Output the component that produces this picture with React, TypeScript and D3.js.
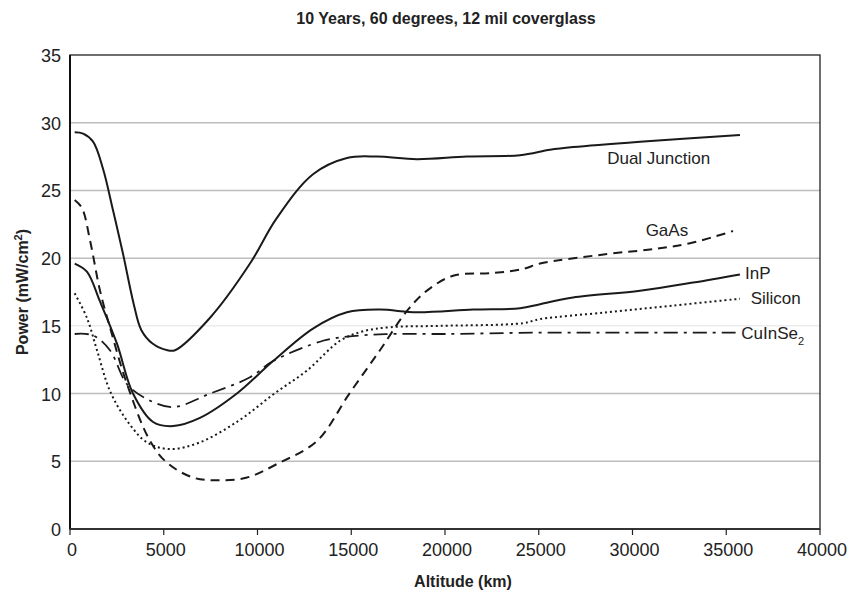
import React, { useEffect, useRef } from 'react';
import * as d3 from 'd3';

// altitude (km) / power (mW/cm2)
const djAlt = [250, 700, 1230, 1760, 2300, 2830, 3400, 3800, 4400, 5200, 5600, 7470, 9600, 11000, 12960, 14770, 16370, 18500, 21170, 24000, 25600, 26830, 30400, 35730];
const djPow = [29.3, 29.2, 28.6, 26.6, 23.5, 20.3, 16.6, 14.7, 13.7, 13.2, 13.2, 15.6, 19.6, 22.9, 26.2, 27.4, 27.5, 27.3, 27.5, 27.6, 28.0, 28.2, 28.6, 29.1];

const gaasAlt = [250, 640, 1070, 1600, 2130, 3040, 4270, 5170, 6560, 7840, 9440, 11040, 13170, 14900, 16530, 17970, 19040, 20430, 22560, 24160, 25070, 28640, 31300, 33070, 35360];
const gaasPow = [24.3, 23.7, 21.3, 17.6, 14.9, 10.7, 6.5, 4.9, 3.8, 3.6, 3.8, 4.8, 6.5, 10.0, 13.2, 16.1, 17.6, 18.7, 18.9, 19.2, 19.6, 20.3, 20.7, 21.1, 22.0];

const inpAlt = [250, 900, 1600, 2500, 3360, 4430, 5500, 6930, 8900, 10830, 12960, 14770, 16530, 18500, 21500, 24000, 25070, 26830, 30400, 33230, 35730];
const inpPow = [19.6, 19.0, 16.8, 13.7, 10.0, 7.9, 7.6, 8.2, 10.0, 12.4, 14.8, 16.0, 16.2, 16.0, 16.2, 16.3, 16.6, 17.1, 17.6, 18.2, 18.8];

const siAlt = [250, 900, 1440, 2130, 3040, 4100, 5330, 6930, 9000, 10900, 12640, 14400, 15630, 17070, 19730, 24160, 25070, 28640, 32160, 35730];
const siPow = [17.4, 15.6, 13.2, 10.2, 8.0, 6.4, 5.9, 6.4, 8.0, 10.0, 11.7, 13.9, 14.6, 14.9, 15.0, 15.2, 15.5, 16.0, 16.5, 17.0];

const cisAlt = [250, 1230, 2130, 3040, 4100, 5500, 7470, 9600, 10830, 13490, 14770, 17070, 20000, 25000, 30000, 35500];
const cisPow = [14.4, 14.3, 13.2, 10.7, 9.6, 9.0, 10.0, 11.2, 12.4, 13.9, 14.2, 14.4, 14.4, 14.5, 14.5, 14.5];

const xTicks = [0, 5000, 10000, 15000, 20000, 25000, 30000, 35000, 40000];
const yTicks = [0, 5, 10, 15, 20, 25, 30, 35];
const gridVals = [5, 10, 15, 20, 25, 30];

export default function App() {
    const ref = useRef<SVGSVGElement>(null);

    useEffect(() => {
        const svg = d3.select(ref.current);
        svg.selectAll('*').remove();

        const left = 70, right = 820, top = 55, bottom = 529;
        const x = d3.scaleLinear().domain([0, 40000]).range([left, right]);
        const y = d3.scaleLinear().domain([0, 35]).range([bottom, top]);
        const font = 'Liberation Sans, Arial, sans-serif';

        // faint gridlines
        svg.selectAll('line.grid')
            .data(gridVals)
            .enter()
            .append('line')
            .attr('x1', left).attr('x2', right)
            .attr('y1', d => y(d)).attr('y2', d => y(d))
            .attr('stroke', d => d === 15 ? '#ececec' : '#bdbdbd')
            .attr('stroke-width', 1.5);

        // frame
        svg.append('rect')
            .attr('x', left).attr('y', top)
            .attr('width', right - left).attr('height', bottom - top)
            .attr('fill', 'none').attr('stroke', '#222').attr('stroke-width', 1.3);
        svg.append('line')
            .attr('x1', left).attr('x2', left).attr('y1', top).attr('y2', bottom)
            .attr('stroke', '#111').attr('stroke-width', 2);
        svg.append('line')
            .attr('x1', left).attr('x2', right).attr('y1', bottom).attr('y2', bottom)
            .attr('stroke', '#333').attr('stroke-width', 2);

        // x axis ticks + labels
        const xg = svg.append('g');
        xg.selectAll('line')
            .data(xTicks)
            .enter()
            .append('line')
            .attr('x1', d => x(d)).attr('x2', d => x(d))
            .attr('y1', bottom).attr('y2', bottom + 6)
            .attr('stroke', '#222').attr('stroke-width', 1.2);
        xg.selectAll('text')
            .data(xTicks)
            .enter()
            .append('text')
            .attr('x', d => x(d) + 2).attr('y', bottom + 27)
            .attr('text-anchor', 'middle')
            .attr('font-family', font).attr('font-size', 18).attr('fill', '#222')
            .text(d => String(d));

        // y axis labels
        svg.append('g').selectAll('text')
            .data(yTicks)
            .enter()
            .append('text')
            .attr('x', left - 9).attr('y', d => y(d) + 7)
            .attr('text-anchor', 'end')
            .attr('font-family', font).attr('font-size', 18).attr('fill', '#222')
            .text(d => String(d));

        // title and axis titles
        svg.append('text')
            .attr('x', 446).attr('y', 24)
            .attr('text-anchor', 'middle')
            .attr('font-family', font).attr('font-size', 16).attr('font-weight', 'bold').attr('fill', '#222')
            .text('10 Years, 60 degrees, 12 mil coverglass');
        svg.append('text')
            .attr('x', (left + right) / 2 + 18).attr('y', 587)
            .attr('text-anchor', 'middle')
            .attr('font-family', font).attr('font-size', 16).attr('font-weight', 'bold').attr('fill', '#222')
            .text('Altitude (km)');
        const yl = svg.append('text')
            .attr('transform', `translate(28,${(top + bottom) / 2}) rotate(-90)`)
            .attr('text-anchor', 'middle')
            .attr('font-family', font).attr('font-size', 16).attr('font-weight', 'bold').attr('fill', '#222');
        yl.append('tspan').text('Power (mW/cm');
        yl.append('tspan').attr('baseline-shift', 'super').attr('font-size', 11).text('2');
        yl.append('tspan').text(')');

        const line = d3.line<[number, number]>()
            .x(d => x(d[0]))
            .y(d => y(d[1]))
            .curve(d3.curveCatmullRom.alpha(0.5));

        const series = [
            { alt: djAlt, pow: djPow, dash: null, w: 2 },
            { alt: gaasAlt, pow: gaasPow, dash: '9,6', w: 2 },
            { alt: inpAlt, pow: inpPow, dash: null, w: 2 },
            { alt: siAlt, pow: siPow, dash: '2,3', w: 2 },
            { alt: cisAlt, pow: cisPow, dash: '14,6,3,6', w: 1.8 },
        ];
        series.forEach(s => {
            const pts = s.alt.map((a, i) => [a, s.pow[i]] as [number, number]);
            svg.append('path')
                .attr('d', line(pts))
                .attr('fill', 'none')
                .attr('stroke', '#1a1a1a')
                .attr('stroke-width', s.w)
                .attr('stroke-dasharray', s.dash);
        });

        // series labels
        const lbl = (tx: number, ty: number, t: string) =>
            svg.append('text')
                .attr('x', tx).attr('y', ty)
                .attr('font-family', font).attr('font-size', 17).attr('fill', '#222')
                .text(t);
        lbl(x(28650), y(26.95), 'Dual Junction');
        lbl(x(30700), y(21.6), 'GaAs');
        lbl(x(36000), y(18.45), 'InP');
        lbl(x(36300), y(16.6), 'Silicon');
        const cis = lbl(x(35800), y(14.0), 'CuInSe');
        cis.append('tspan').attr('baseline-shift', 'sub').attr('font-size', 11).text('2');
    }, []);

    return (
        <svg ref={ref} width={863} height={595}
            style={{ position: 'absolute', left: 0, top: 0, background: '#fff' }} />
    );
}
